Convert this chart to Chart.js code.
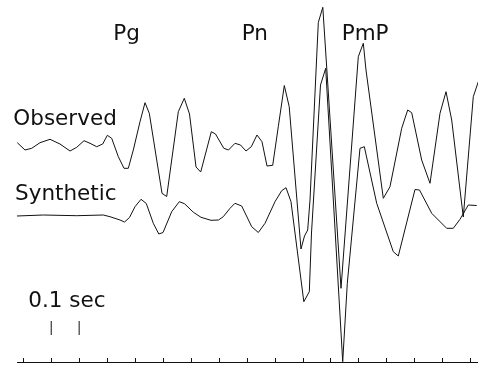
<!DOCTYPE html>
<html>
<head>
<meta charset="utf-8">
<title>Observed and synthetic seismograms</title>
<script src="https://cdn.jsdelivr.net/npm/chart.js@4.4.1/dist/chart.umd.min.js"></script>
<style>
  html, body { margin: 0; padding: 0; background: #fff; }
  #wrap { width: 478px; height: 365px; }
</style>
</head>
<body>
<div id="wrap"><canvas id="c" width="478" height="365"></canvas></div>
<script>
// Sample times (s) and amplitudes (relative to each trace's own baseline)
const observedTime = [
  -0.0215, 0.0061, 0.0301, 0.0598, 0.0957, 0.1314, 0.1673, 0.1913, 0.2174, 0.2389,
  0.2629, 0.2844, 0.3009, 0.3166, 0.3403, 0.3607, 0.3761, 0.3940, 0.4180, 0.4359,
  0.4513, 0.4968, 0.5136, 0.5552, 0.5766, 0.5953, 0.6186, 0.6354, 0.6734, 0.6884,
  0.7181, 0.7350, 0.7582, 0.7779, 0.7976, 0.8166, 0.8370, 0.8549, 0.8729, 0.8933,
  0.9133, 0.9348, 0.9524, 0.9946, 1.0072, 1.0186, 1.0269, 1.0566, 1.0727, 1.1379,
  1.1999, 1.2178, 1.2274, 1.2894, 1.3134, 1.3553, 1.3768, 1.3911, 1.4269, 1.4567,
  1.4925, 1.5140, 1.5344, 1.5759, 1.6117, 1.6297
];
const observedAmp = [
  5.3, -2, -0.3, 5.3, 8.7, 4, -3, 0.7, 7.3, 4.7,
  1.3, 4, 12.7, 9.7, -8.7, -20.3, -20.3, -2, 26.3, 45.3,
  34.7, -45.3, -48.5, 36.3, 49.7, 34, -19, -24, 16.3, 14,
  -0.3, -2, 4.7, 3, -3, 1.3, 13, 6.3, -18, -17.3,
  21.3, 62.5, 41.3, -101, -88, -82, -52, 125.5, 140.7, -140.3,
  91.3, 104.7, 78, -50.3, -38.7, 19.7, 38, 35.3, -12, -35.3,
  34.7, 56.3, 28, -69, 51.3, 66.3
];

const syntheticTime = [
  -0.0236, 0.0716, 0.1913, 0.2865, 0.3105, 0.3463, 0.3625, 0.3804, 0.4001, 0.4216,
  0.4405, 0.4656, 0.4853, 0.5004, 0.5315, 0.5587, 0.5774, 0.6089, 0.6365, 0.6723,
  0.6991, 0.7163, 0.7403, 0.7582, 0.7822, 0.8181, 0.8417, 0.8657, 0.9015, 0.9255,
  0.9409, 0.9588, 1.0047, 1.0244, 1.0322, 1.0645, 1.0831, 1.1440, 1.1605, 1.2059,
  1.2214, 1.2658, 1.3252, 1.3431, 1.4029, 1.4191, 1.4628, 1.5165, 1.5401, 1.5641,
  1.5938, 1.6239
];
const syntheticAmp = [
  -1, 0, -0.7, 0, -1.7, -5, -7, -2.5, 8.3, 15.7,
  11.5, -8.3, -19, -17.5, 3.3, 13.3, 11.3, 2.8, -2.3, -5.3,
  -5, -1.7, 6.7, 11.7, 9, -11.7, -17.5, -8.3, 13.3, 24.3,
  27.3, 13.3, -86.7, -76.7, -18, 130, 146.7, -146.7, -68.3, 66.7,
  68.3, 11.7, -36.7, -41, 25.5, 25, 1.7, -13.3, -13.3, -4.3,
  10, 9.5
];

// Vertical offsets that stack the two traces
const observedOffset = 214;
const syntheticOffset = 147;

// Time axis ticks every 0.1 s
const tickTimes = [0, 0.1, 0.2, 0.3, 0.4, 0.5, 0.6, 0.7, 0.8, 0.9, 1.0, 1.1, 1.2, 1.3, 1.4, 1.5, 1.6];

// Scale bar: two short marks one tick apart
const scaleBarTimes = [0.1, 0.2];
const scaleBarSpan = [27, 41];

// Annotations: phase names, trace names and the scale-bar caption
const annotationText = ['Pg', 'Pn', 'PmP', 'Observed', 'Synthetic', '0.1 sec'];
const annotationTime = [0.3223, 0.782, 1.1404, -0.0357, -0.0297, 0.018];
const annotationLevel = [322, 322, 322, 237, 162, 55.3];

function stack(times, amps, offset) {
  return times.map((t, i) => ({ x: t, y: offset + amps[i] }));
}

const scaleBarPoints = [];
scaleBarTimes.forEach((t, i) => {
  if (i > 0) scaleBarPoints.push({ x: t, y: null });
  scaleBarPoints.push({ x: t, y: scaleBarSpan[0] });
  scaleBarPoints.push({ x: t, y: scaleBarSpan[1] });
});

const LINE = '#111';

const insideTicks = {
  id: 'insideTicks',
  afterDraw(chart) {
    const xs = chart.scales.x;
    const ctx = chart.ctx;
    const base = chart.chartArea.bottom;
    ctx.save();
    ctx.strokeStyle = LINE;
    ctx.lineWidth = 1;
    tickTimes.forEach(t => {
      const px = Math.round(xs.getPixelForValue(t)) + 0.5;
      ctx.beginPath();
      ctx.moveTo(px, base);
      ctx.lineTo(px, base - 4);
      ctx.stroke();
    });
    ctx.restore();
  }
};

const annotations = {
  id: 'annotations',
  afterDraw(chart) {
    const xs = chart.scales.x, ys = chart.scales.y;
    const ctx = chart.ctx;
    ctx.save();
    ctx.fillStyle = '#111';
    ctx.font = '21.5px "DejaVu Sans", sans-serif';
    ctx.textBaseline = 'alphabetic';
    ctx.textAlign = 'left';
    annotationText.forEach((txt, i) => {
      ctx.fillText(txt, xs.getPixelForValue(annotationTime[i]), ys.getPixelForValue(annotationLevel[i]));
    });
    ctx.restore();
  }
};

new Chart(document.getElementById('c'), {
  type: 'line',
  data: {
    datasets: [
      {
        label: 'Observed',
        data: stack(observedTime, observedAmp, observedOffset),
        borderColor: LINE,
        borderWidth: 1,
        pointRadius: 0,
        tension: 0,
        fill: false
      },
      {
        label: 'Synthetic',
        data: stack(syntheticTime, syntheticAmp, syntheticOffset),
        borderColor: LINE,
        borderWidth: 1,
        pointRadius: 0,
        tension: 0,
        fill: false
      },
      {
        label: 'scale',
        data: scaleBarPoints,
        borderColor: LINE,
        borderWidth: 1,
        pointRadius: 0,
        spanGaps: false,
        fill: false
      }
    ]
  },
  options: {
    responsive: false,
    animation: false,
    events: [],
    layout: { padding: { left: 17, right: 0, top: 0, bottom: 3 } },
    plugins: { legend: { display: false }, tooltip: { enabled: false }, title: { display: false } },
    scales: {
      x: {
        type: 'linear',
        min: -0.0226,
        max: 1.6286,
        ticks: { display: false, stepSize: 0.1 },
        grid: { display: false, drawTicks: false },
        border: { display: true, color: LINE, width: 1 }
      },
      y: {
        type: 'linear',
        min: 0,
        max: 362,
        display: false
      }
    }
  },
  plugins: [insideTicks, annotations]
});
</script>
</body>
</html>
